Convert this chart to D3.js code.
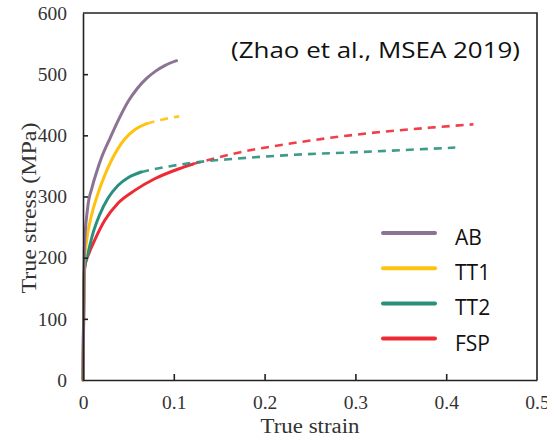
<!DOCTYPE html>
<html>
<head>
<meta charset="utf-8">
<script src="https://cdn.jsdelivr.net/npm/d3@7"></script>
<style>
  html, body { margin: 0; padding: 0; background: #fff; }
  svg { display: block; }
</style>
</head>
<body>
<svg id="chart" width="547" height="438"></svg>
<script>
// True stress–strain curves (strain, MPa); solid = measured, dashed = extrapolated
const seriesNames = ["AB", "TT1", "TT2", "FSP"];
const seriesColors = ["#8c7396", "#ffc20e", "#29907d", "#ee2a35"];

const abSolid = [[0,0],[0.0015,215],[0.005,280],[0.01,315],[0.015,340],[0.02,362],[0.03,396],[0.04,428],[0.05,456],[0.06,477],[0.07,493],[0.08,505],[0.09,514],[0.103,522]];
const abDashed = [];

const tt1Solid = [[0,0],[0.0015,190],[0.004,228],[0.009,267],[0.0165,305],[0.024,335],[0.031,358],[0.038,377],[0.046,394],[0.057,409],[0.07,419]];
const tt1Dashed = [[0.07,419],[0.088,426],[0.106,431]];

const tt2Solid = [[0,0],[0.0015,180],[0.0055,207],[0.011,240],[0.018,269],[0.0275,297],[0.0385,318],[0.05,331],[0.064,340]];
const tt2Dashed = [[0.064,340],[0.09,348],[0.125,356],[0.17,362],[0.23,368],[0.31,373],[0.41,380]];

const fspSolid = [[0,0],[0.001,150],[0.002,185],[0.006,205],[0.013,229],[0.024,261],[0.0385,289],[0.057,310],[0.079,329],[0.105,345],[0.121,353]];
const fspDashed = [[0.121,353],[0.166,370],[0.239,389],[0.312,403],[0.386,413],[0.43,418]];

const xTicks = [0, 0.1, 0.2, 0.3, 0.4, 0.5];
const yTicks = [0, 100, 200, 300, 400, 500, 600];
const xTickLabels = ["0", "0.1", "0.2", "0.3", "0.4", "0.5"];

const solids = [abSolid, tt1Solid, tt2Solid, fspSolid];
const dashes = [abDashed, tt1Dashed, tt2Dashed, fspDashed];

const svg = d3.select("#chart");

const x = d3.scaleLinear().domain([0, 0.5]).range([83, 537]);
const y = d3.scaleLinear().domain([0, 600]).range([380, 13]);

const serif = "'Liberation Serif', 'Times New Roman', serif";
const sans = "'Open Sans', Lato, sans-serif";

const line = d3.line().x(d => x(d[0])).y(d => y(d[1])).curve(d3.curveMonotoneX);

// curves; drawn in reverse so AB sits on top near the origin
const curves = svg.append("g");
for (let i = seriesNames.length - 1; i >= 0; i--) {
  curves.append("path")
    .attr("d", line(solids[i]))
    .attr("fill", "none")
    .attr("stroke", seriesColors[i])
    .attr("stroke-width", 3)
    .attr("stroke-linecap", "round");
  if (dashes[i].length) {
    curves.append("path")
      .attr("d", line(dashes[i]))
      .attr("fill", "none")
      .attr("stroke", seriesColors[i])
      .attr("stroke-width", 2.6)
      .attr("stroke-dasharray", "8,6")
      .attr("opacity", 0.9);
  }
}

// axes (ticks pointing inward)
const axisColor = "#222";
const xAxis = svg.append("g")
  .attr("transform", `translate(0,${y(0)})`)
  .call(d3.axisBottom(x).tickValues(xTicks).tickSizeInner(-6).tickSizeOuter(0)
    .tickFormat((d, i) => xTickLabels[i]));
const yAxis = svg.append("g")
  .attr("transform", `translate(${x(0)},0)`)
  .call(d3.axisLeft(y).tickValues(yTicks).tickSizeInner(-5).tickSizeOuter(0));

[xAxis, yAxis].forEach(a => {
  a.select(".domain").attr("stroke", axisColor).attr("stroke-width", 1.6);
  a.selectAll(".tick line").attr("stroke", axisColor).attr("stroke-width", 1.6);
  a.selectAll(".tick text")
    .attr("font-family", serif).attr("font-size", 19.5).attr("fill", "#333");
});
xAxis.selectAll(".tick text").attr("y", 15).attr("dy", "0.71em");
xAxis.selectAll(".tick").filter(d => d === 0.5 || d === 0).select("line").remove();
yAxis.selectAll(".tick").filter(d => d === 0 || d === 600).select("line").remove();
yAxis.selectAll(".tick text").attr("x", -16);

// top and right frame
svg.append("path")
  .attr("d", `M${x(0)},${y(600)}H${x(0.5)}V${y(0)}`)
  .attr("fill", "none").attr("stroke", axisColor).attr("stroke-width", 1.6);

// axis titles
svg.append("text")
  .attr("x", x(0.25)).attr("y", 433)
  .attr("text-anchor", "middle")
  .attr("font-family", serif).attr("font-size", 20).attr("fill", "#333")
  .attr("textLength", 99).attr("lengthAdjust", "spacingAndGlyphs")
  .text("True strain");
svg.append("text")
  .attr("transform", "translate(36,208) rotate(-90)")
  .attr("text-anchor", "middle")
  .attr("font-family", serif).attr("font-size", 20).attr("fill", "#333")
  .attr("textLength", 171).attr("lengthAdjust", "spacingAndGlyphs")
  .text("True stress (MPa)");

// source note
svg.append("text")
  .attr("x", 231).attr("y", 58)
  .attr("font-family", sans).attr("font-size", 21).attr("fill", "#111")
  .attr("textLength", 289).attr("lengthAdjust", "spacingAndGlyphs")
  .text("(Zhao et al., MSEA 2019)");

// legend
const legend = svg.append("g");
seriesNames.forEach((name, i) => {
  const ly = 233 + i * 35.2;
  legend.append("line")
    .attr("x1", 383).attr("x2", 435).attr("y1", ly).attr("y2", ly)
    .attr("stroke", seriesColors[i]).attr("stroke-width", 4).attr("stroke-linecap", "round");
  legend.append("text")
    .attr("x", 455).attr("y", ly + 12)
    .attr("font-family", sans).attr("font-size", 21).attr("fill", "#111")
    .text(name);
});
</script>
</body>
</html>
